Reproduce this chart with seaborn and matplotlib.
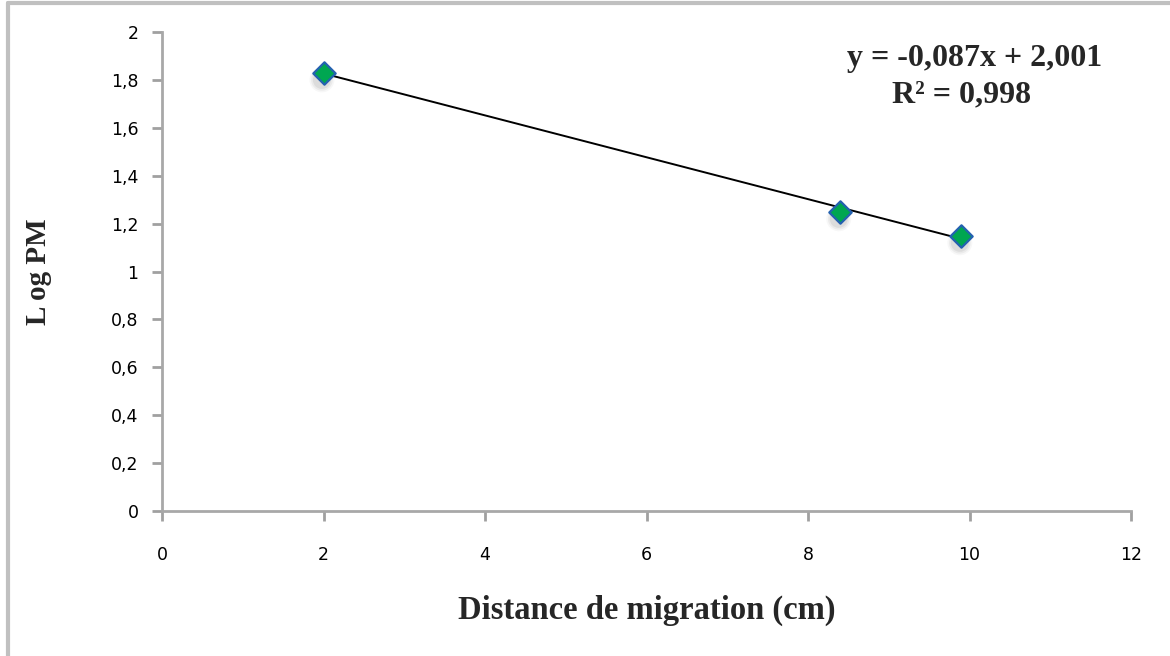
import matplotlib
matplotlib.use("Agg")
import matplotlib.pyplot as plt
import numpy as np
import pandas as pd
import seaborn as sns
from matplotlib.lines import Line2D
from matplotlib.ticker import FuncFormatter

# distance de migration (cm) et log du poids moléculaire
distance = [2.0, 8.4, 9.9]
log_pm = [1.83, 1.25, 1.15]
equation = "y = -0,087x + 2,001"
r2_text = "R² = 0,998"
x_ticks = [0, 2, 4, 6, 8, 10, 12]
y_ticks = [0, 0.2, 0.4, 0.6, 0.8, 1, 1.2, 1.4, 1.6, 1.8, 2]

df = pd.DataFrame({"distance": distance, "log_pm": log_pm})

sns.set_style("white")
plt.rcParams['font.family'] = ['DejaVu Sans']

fig = plt.figure(figsize=(11.7, 6.56), dpi=100)
ax = fig.add_axes([0.1385, 0.221, 0.9667 - 0.1385, 0.9512 - 0.221])

# droite de tendance
sns.regplot(data=df, x="distance", y="log_pm", scatter=False, ci=None,
            color="black", line_kws={"linewidth": 1.4}, ax=ax)

# ombre floue des marqueurs
shadow = df.copy()
shadow["distance"] = shadow["distance"] - 0.02
shadow["log_pm"] = shadow["log_pm"] - 0.03
for s, a in [(320, 0.06), (240, 0.09), (170, 0.12)]:
    sns.scatterplot(data=shadow, x="distance", y="log_pm", marker="o", s=s,
                    color="#777777", alpha=a, edgecolor="none", ax=ax, zorder=3)
sns.scatterplot(data=df, x="distance", y="log_pm", marker="D", s=130,
                color="#00a651", edgecolor="#2461b0", linewidth=1.6, ax=ax, zorder=4)

ax.set_xlim(0, 12)
ax.set_ylim(0, 2)
ax.set_xticks(x_ticks)
ax.set_yticks(y_ticks)
fmt = FuncFormatter(lambda v, p: f"{v:g}".replace(".", ","))
ax.xaxis.set_major_formatter(fmt)
ax.yaxis.set_major_formatter(fmt)
ax.tick_params(axis="both", labelsize=12.5, colors="#a0a0a0", labelcolor="black",
               length=7, width=2, direction="out", left=True, bottom=True)
ax.tick_params(axis="x", pad=18)
ax.tick_params(axis="y", pad=10)

for side in ["top", "right"]:
    ax.spines[side].set_visible(False)
for side in ["left", "bottom"]:
    ax.spines[side].set_color("#a8a8a8")
    ax.spines[side].set_linewidth(2)

serif = {"family": "Liberation Serif", "weight": "bold"}
ax.set_xlabel("Distance de migration (cm)", fontdict={**serif, "size": 23.5}, labelpad=22)
ax.set_ylabel("L og PM", fontdict={**serif, "size": 21}, labelpad=42)

ax.text(10.06, 1.891, equation, ha="center", va="center", fontdict={**serif, "size": 23})
ax.text(9.9, 1.737, r2_text, ha="center", va="center", fontdict={**serif, "size": 23})

# bordure du graphique
fig.add_artist(Line2D([0.0068, 0.0068], [0, 0.9954], transform=fig.transFigure,
                      color="#c0c0c0", linewidth=3))
fig.add_artist(Line2D([0.0068, 1], [0.9954, 0.9954], transform=fig.transFigure,
                      color="#c0c0c0", linewidth=3))

fig.savefig("out.png", dpi=100)
